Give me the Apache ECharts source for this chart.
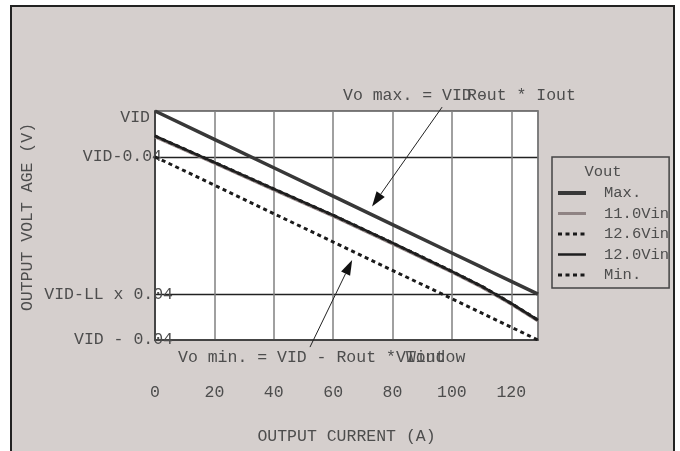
<!DOCTYPE html>
<html><head><meta charset="utf-8">
<script src="https://cdn.jsdelivr.net/npm/echarts@6/dist/echarts.min.js"></script>
<style>html,body{margin:0;padding:0;background:#fff}#c{width:680px;height:451px}</style>
</head><body><div id="c"></div>
<script>
// ---- data ----
const currents = [0, 20, 40, 60, 80, 100, 110, 113, 120, 129];
const vMax  = [100, 87.6, 75.2, 62.8, 50.4, 38.0, 31.8, 29.9, 25.6, 20.0];
const v11   = [88.7, 77.2, 65.6, 54.1, 42.0, 29.6, 23.1, 20.9, 15.6, 8.3];
const v126  = [89.1, 77.6, 66.0, 54.5, 42.4, 30.0, 23.5, 21.3, 16.0, 8.7];
const v12   = [89.1, 77.6, 66.0, 54.5, 42.4, 30.0, 23.5, 21.3, 16.0, 8.7];
const vMin  = [80, 67.6, 55.2, 42.8, 30.4, 18.0, 11.8, 9.9, 5.6, 0];
const seriesNames = ['Max.', '11.0Vin', '12.6Vin', '12.0Vin', 'Min.'];
const xTickValues = [0, 20, 40, 60, 80, 100, 120];
const yTickValues = [100, 80, 20, 0];
const yTickLabels = ['VID', 'VID-0.04', 'VID-LL x 0.04', 'VID - 0.04'];
const legendTitle = 'Vout';
const xTitle = 'OUTPUT CURRENT (A)';
const yTitle = 'OUTPUT VOLT AGE (V)';
// annotation anchors in data space [current, value]
const maxArrow = [[96.7, 101.7], [73.1, 58.3]];
const minArrow = [[52.2, -3.1], [66.4, 34.9]];

const FONT = 'Liberation Mono';
const TXT = '#4d4d4d';
const pairs = ys => currents.map((x, i) => [x, ys[i]]);

const styles = [
  {color: '#383838', width: 3.5},
  {color: '#8f8383', width: 3},
  {color: '#1a1a1a', width: 3, type: [4, 3.5]},
  {color: '#1e1e1e', width: 2.5},
  {color: '#1a1a1a', width: 3, type: [4, 3.5]}
];
const seriesData = [vMax, v11, v126, v12, vMin];

const chart = echarts.init(document.getElementById('c'), null, {renderer: 'canvas'});
const yColors = [0, 20, 40, 60, 80, 100].map(v => yTickValues.indexOf(v) >= 0 && v !== 0 && v !== 100 ? '#222' : 'rgba(0,0,0,0)');

const option = {
  animation: false,
  backgroundColor: '#fff',
  grid: {left: 155, top: 111, right: 142, bottom: 111, show: true, backgroundColor: '#fff', borderColor: '#555', borderWidth: 1.5},
  xAxis: {
    type: 'value', min: 0, max: 129, interval: 20,
    name: xTitle, nameLocation: 'middle', nameGap: 88,
    nameTextStyle: {fontFamily: FONT, fontSize: 16.5, color: TXT},
    axisLine: {show: true, lineStyle: {color: '#333', width: 1.5}},
    axisTick: {show: false},
    splitLine: {show: true, lineStyle: {color: '#808080', width: 1.5}},
    axisLabel: {margin: 44, fontFamily: FONT, fontSize: 16.5, color: TXT,
      formatter: v => xTickValues.indexOf(v) >= 0 ? String(v) : ''}
  },
  yAxis: {
    type: 'value', min: 0, max: 100, interval: 20,
    axisLine: {show: true, lineStyle: {color: '#333', width: 1.5}},
    axisTick: {show: false},
    splitLine: {show: true, lineStyle: {color: yColors, width: 1.3}},
    axisLabel: {margin: -18, fontFamily: FONT, fontSize: 16.5, color: TXT, showMinLabel: true, showMaxLabel: true,
      formatter: v => { const i = yTickValues.indexOf(v); return i < 0 ? '' : '{l' + i + '|' + yTickLabels[i] + '}'; },
      rich: {
        l0: {fontFamily: FONT, fontSize: 16.5, color: TXT, padding: [14, 23, 0, 0]},
        l1: {fontFamily: FONT, fontSize: 16.5, color: TXT, padding: [0, 11, 0, 0]},
        l2: {fontFamily: FONT, fontSize: 16.5, color: TXT},
        l3: {fontFamily: FONT, fontSize: 16.5, color: TXT}
      }}
  },
  legend: {
    orient: 'vertical', left: 552, top: 157, padding: [28, 0, 5, 4],
    itemWidth: 28, itemHeight: 14, itemGap: 4.5,
    borderColor: '#444', borderWidth: 1.5,
    itemStyle: {color: 'rgba(0,0,0,0)', borderWidth: 0, opacity: 0},
    textStyle: {fontFamily: FONT, fontSize: 15.5, color: TXT, padding: [0, 0, 0, 13]},
    data: seriesNames.map((n, i) => ({name: n, lineStyle: Object.assign({}, styles[i], {width: i === 0 ? 4 : styles[i].width})}))
  },
  series: seriesNames.map((n, i) => ({
    name: n, type: 'line', symbol: 'none', data: pairs(seriesData[i]),
    lineStyle: styles[i], itemStyle: {color: styles[i].color}
  }))
};
chart.setOption(option);

function arrow(a, b) {
  const p0 = chart.convertToPixel({gridIndex: 0}, a);
  const p1 = chart.convertToPixel({gridIndex: 0}, b);
  const dx = p1[0] - p0[0], dy = p1[1] - p0[1];
  const L = Math.hypot(dx, dy), ux = dx / L, uy = dy / L;
  const hl = 15, hw = 5;
  const bx = p1[0] - ux * hl, by = p1[1] - uy * hl;
  return [
    {type: 'polyline', z: 50, shape: {points: [p0, [bx, by]]}, style: {stroke: '#222', lineWidth: 1, fill: null}},
    {type: 'polygon', z: 50, shape: {points: [p1, [bx - uy * hw, by + ux * hw], [bx + uy * hw, by - ux * hw]]}, style: {fill: '#111'}}
  ];
}
const t = (text, x, y, extra) => Object.assign({type: 'text', x: x, y: y, z: 60,
  style: {text: text, fontFamily: FONT, fontSize: 16.5, fill: TXT, align: 'left', verticalAlign: 'middle'}}, extra || {});

chart.setOption({
  graphic: [
    {type: 'rect', z: -100, shape: {x: 11, y: 6, width: 663, height: 460}, style: {fill: '#d5cfcd', stroke: '#222', lineWidth: 2}},
    ...arrow(maxArrow[0], maxArrow[1]),
    ...arrow(minArrow[0], minArrow[1]),
    t('Vo max. = VID', 343, 96),
    t('Rout * Iout', 467, 96),
    t('-', 477, 96),
    t('Vo min. = VID - Rout * Iout', 178, 358),
    t('VWindow', 396, 358),
    t(legendTitle, 603, 172, {style: {text: legendTitle, fontFamily: FONT, fontSize: 15.5, fill: TXT, align: 'center', verticalAlign: 'middle'}}),
    t(yTitle, 28, 217, {rotation: Math.PI / 2, style: {text: yTitle, fontFamily: FONT, fontSize: 16.5, fill: TXT, align: 'center', verticalAlign: 'middle'}})
  ]
});
</script></body></html>
